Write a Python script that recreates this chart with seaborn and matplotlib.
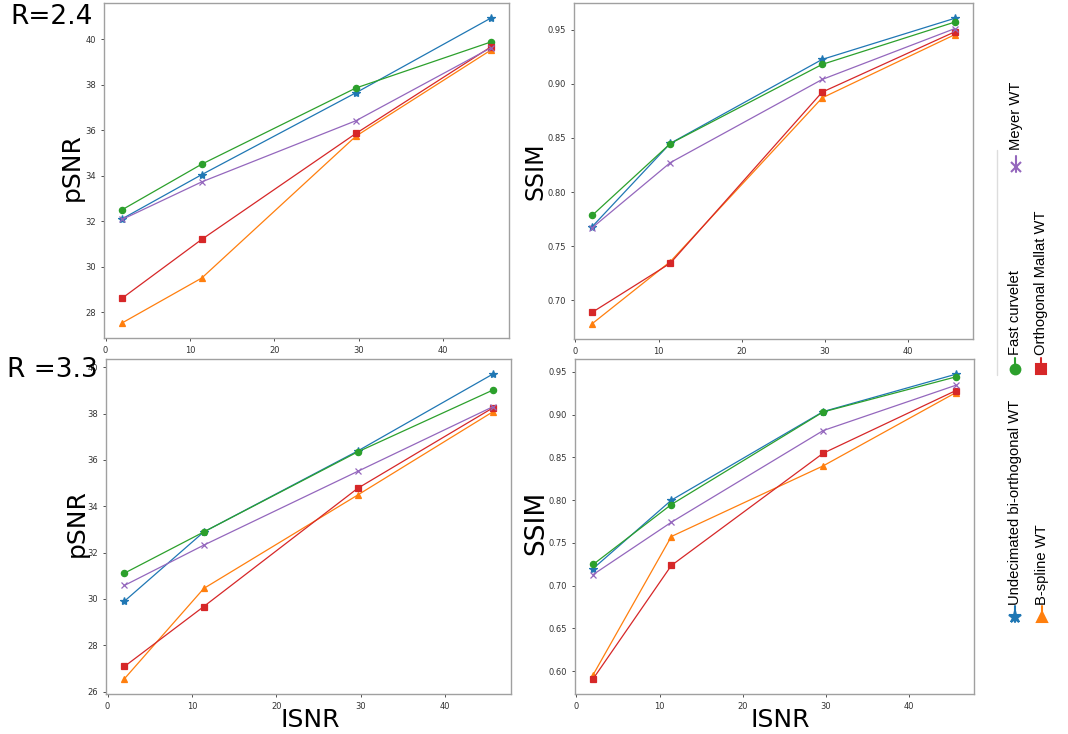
import numpy as np
import pandas as pd
import matplotlib
matplotlib.use("Agg")
import matplotlib.pyplot as plt
import seaborn as sns
from matplotlib.lines import Line2D

# ---- data ----
isnr = [2.0, 11.4, 29.65, 45.6]

methods = ["Undecimated bi-orthogonal WT", "B-spline WT", "Fast curvelet",
           "Orthogonal Mallat WT", "Meyer WT"]
colors = ["#1f77b4", "#ff7f0e", "#2ca02c", "#d62728", "#9467bd"]
markers = ["*", "^", "o", "s", "x"]

psnr_24 = {
    "Undecimated bi-orthogonal WT": [32.11, 34.05, 37.65, 40.93],
    "B-spline WT": [27.53, 29.50, 35.74, 39.52],
    "Fast curvelet": [32.51, 34.51, 37.86, 39.88],
    "Orthogonal Mallat WT": [28.62, 31.20, 35.86, 39.66],
    "Meyer WT": [32.08, 33.73, 36.42, 39.62],
}
ssim_24 = {
    "Undecimated bi-orthogonal WT": [0.768, 0.845, 0.9225, 0.9605],
    "B-spline WT": [0.6784, 0.7358, 0.887, 0.9454],
    "Fast curvelet": [0.7784, 0.8448, 0.9179, 0.957],
    "Orthogonal Mallat WT": [0.6889, 0.7343, 0.8923, 0.948],
    "Meyer WT": [0.767, 0.8272, 0.904, 0.951],
}
psnr_33 = {
    "Undecimated bi-orthogonal WT": [29.90, 32.89, 36.39, 39.70],
    "B-spline WT": [26.55, 30.45, 34.49, 38.07],
    "Fast curvelet": [31.11, 32.89, 36.35, 39.01],
    "Orthogonal Mallat WT": [27.08, 29.67, 34.78, 38.24],
    "Meyer WT": [30.58, 32.32, 35.51, 38.29],
}
ssim_33 = {
    "Undecimated bi-orthogonal WT": [0.720, 0.800, 0.9036, 0.9473],
    "B-spline WT": [0.5958, 0.7575, 0.8401, 0.9258],
    "Fast curvelet": [0.7248, 0.7949, 0.9032, 0.9442],
    "Orthogonal Mallat WT": [0.5911, 0.7236, 0.8549, 0.9282],
    "Meyer WT": [0.713, 0.7742, 0.8814, 0.9344],
}

sns.set_style("white")
W, H = 1068, 734
fig = plt.figure(figsize=(W / 100, H / 100), dpi=100)


def px_axes(left, top, right, bottom):
    return fig.add_axes([left / W, (H - bottom) / H, (right - left) / W, (bottom - top) / H])


def draw_panel(ax, series):
    for m, c, mk in zip(methods, colors, markers):
        df = pd.DataFrame({"ISNR": isnr, "val": series[m]})
        ms = 6 if mk == "*" else 4.5
        sns.lineplot(data=df, x="ISNR", y="val", ax=ax, color=c, marker=mk,
                     markersize=ms, markeredgecolor=c, markeredgewidth=0.9,
                     linewidth=0.9, legend=False)
    ax.margins(x=0.05, y=0.05)
    ax.set_xticks([0, 10, 20, 30, 40])
    ax.tick_params(axis="both", labelsize=6, colors="#333333", length=2.5,
                   width=0.6, direction="out", bottom=True, left=True)
    for s in ax.spines.values():
        s.set_color("#a0a0a0")
        s.set_linewidth(1.0)
    ax.set_ylabel("")
    ax.set_xlabel("")


ax1 = px_axes(104, 3, 509, 338)
draw_panel(ax1, psnr_24)
ax2 = px_axes(574, 3, 973, 339)
draw_panel(ax2, ssim_24)
ax3 = px_axes(106, 359, 511, 694)
draw_panel(ax3, psnr_33)
ax4 = px_axes(575, 359, 974, 694)
draw_panel(ax4, ssim_33)

for ax in (ax2, ax4):
    ax.yaxis.set_major_formatter(matplotlib.ticker.FormatStrFormatter("%.2f"))


def ftext(x, y, s, **kw):
    kw.setdefault("color", "black")
    fig.text(x / W, (H - y) / H, s, **kw)


# big axis labels and row captions
ftext(72, 167, "pSNR", rotation=90, fontsize=18, ha="center", va="center")
ftext(77, 523, "pSNR", rotation=90, fontsize=18, ha="center", va="center")
ftext(535, 171, "SSIM", rotation=90, fontsize=17, ha="center", va="center")
ftext(536, 523, "SSIM", rotation=90, fontsize=19, ha="center", va="center")
ftext(310, 720, "ISNR", fontsize=18, ha="center", va="center")
ftext(780, 720, "ISNR", fontsize=18, ha="center", va="center")
ftext(10, 17, "R=2.4", fontsize=19, ha="left", va="center")
ftext(7, 370, "R =3.3", fontsize=19, ha="left", va="center")

# rotated legend on the right
leg_font = ["Liberation Sans", "DejaVu Sans"]
leg_pos = {
    "Undecimated bi-orthogonal WT": (1015, 617, 605),
    "B-spline WT": (1042, 617, 605),
    "Fast curvelet": (1015, 369, 355),
    "Orthogonal Mallat WT": (1041, 369, 355),
    "Meyer WT": (1016, 167, 150),
}
for m, c, mk in zip(methods, colors, markers):
    x, my, ty = leg_pos[m]
    ys = [(H - my - 5) / H, (H - my) / H, (H - my + 11) / H]
    ln = Line2D([x / W] * 3, ys, transform=fig.transFigure, color=c,
                linewidth=1.5, marker=mk, markevery=[1],
                markersize=9 if mk == "*" else 7,
                markeredgecolor=c, markeredgewidth=1.5)
    fig.add_artist(ln)
    ftext(x, ty, m, rotation=90, fontsize=10.6, family=leg_font,
          ha="center", va="bottom")

fig.add_artist(Line2D([997 / W, 997 / W], [(H - 150) / H, (H - 375) / H],
                      transform=fig.transFigure, color="#dddddd", linewidth=1))

fig.savefig("out.png", dpi=100)
